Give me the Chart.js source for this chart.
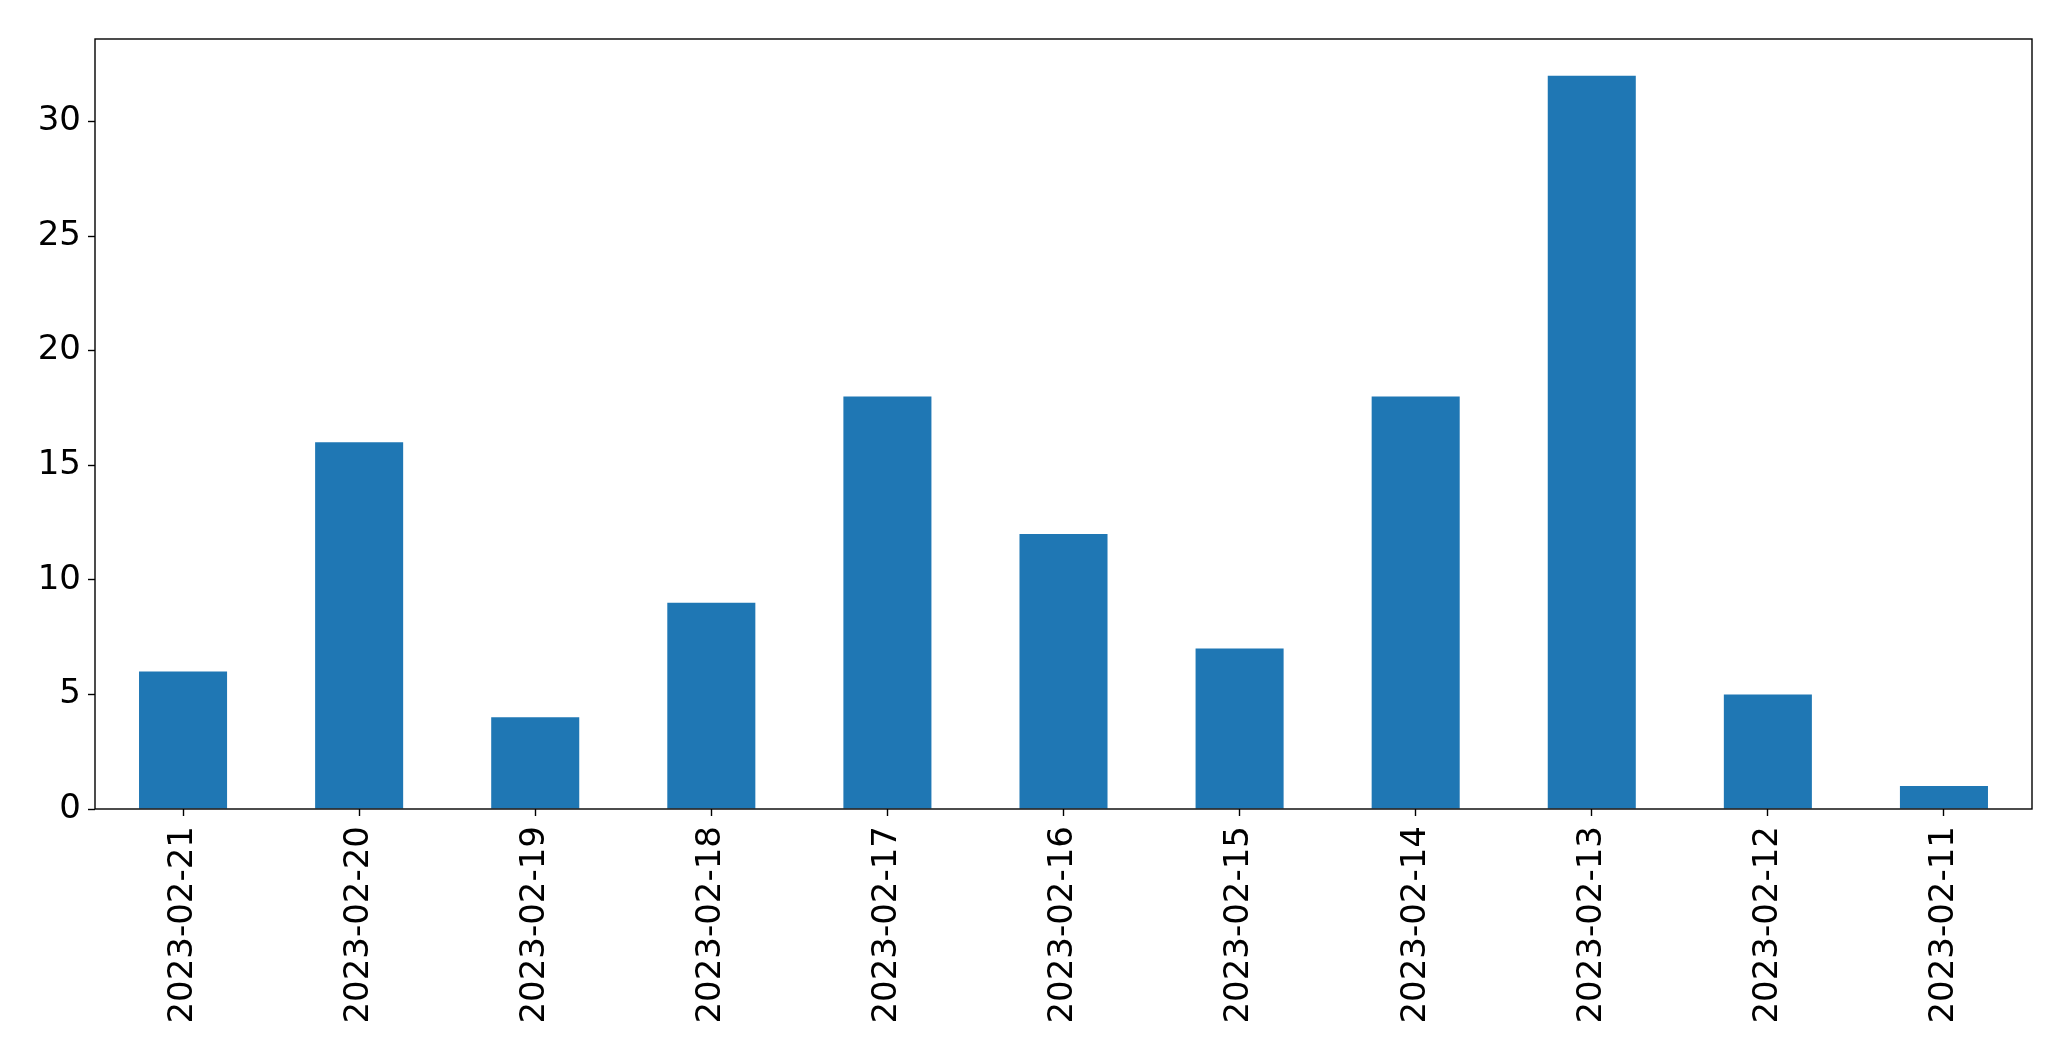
<!DOCTYPE html>
<html>
<head>
<meta charset="utf-8">
<script src="https://cdn.jsdelivr.net/npm/chart.js@4/dist/chart.umd.min.js"></script>
<style>
  html, body { margin: 0; padding: 0; background: #fff; }
  #wrap { width: 2071px; height: 1061px; }
</style>
</head>
<body>
<div id="wrap"><canvas id="chart"></canvas></div>
<script>
const dates = ['2023-02-21', '2023-02-20', '2023-02-19', '2023-02-18', '2023-02-17', '2023-02-16',
    '2023-02-15', '2023-02-14', '2023-02-13', '2023-02-12', '2023-02-11'];
const counts = [6, 16, 4, 9, 18, 12, 7, 18, 32, 5, 1];
const yTicks = [0, 5, 10, 15, 20, 25, 30];

// frame around the plot area, like the matplotlib axes box
const frame = {
    id: 'frame',
    afterDraw(chart) {
        const { ctx, chartArea: a } = chart;
        ctx.save();
        ctx.strokeStyle = '#000';
        ctx.lineWidth = 1.4;
        ctx.strokeRect(a.left, a.top, a.right - a.left, a.bottom - a.top);
        ctx.restore();
    }
};

const tickFont = { family: 'DejaVu Sans', size: 34 };

new Chart(document.getElementById('chart'), {
    type: 'bar',
    data: {
        labels: dates,
        datasets: [{
            data: counts,
            backgroundColor: '#1f77b4',
            borderWidth: 0,
            barPercentage: 0.5,
            categoryPercentage: 1.0
        }]
    },
    options: {
        responsive: true,
        maintainAspectRatio: false,
        animation: false,
        layout: { padding: { top: 39, right: 39, left: 0, bottom: 0 } },
        plugins: {
            legend: { display: false },
            tooltip: { enabled: false }
        },
        scales: {
            x: {
                grid: {
                    offset: false,
                    drawOnChartArea: false,
                    drawTicks: true,
                    tickLength: 7,
                    tickWidth: 1.4,
                    tickColor: '#000'
                },
                border: { display: false },
                ticks: {
                    color: '#000',
                    font: tickFont,
                    minRotation: 90,
                    maxRotation: 90,
                    autoSkip: false,
                    padding: 10
                },
                afterFit(scale) { scale.height = 252; }
            },
            y: {
                min: 0,
                max: 33.6,
                grid: {
                    drawOnChartArea: false,
                    drawTicks: true,
                    tickLength: 7,
                    tickWidth: 1.4,
                    tickColor: '#000'
                },
                border: { display: false },
                afterBuildTicks(scale) {
                    scale.ticks = yTicks.map(v => ({ value: v }));
                },
                ticks: {
                    color: '#000',
                    font: tickFont,
                    padding: 7
                },
                afterFit(scale) { scale.width = 95; }
            }
        }
    },
    plugins: [frame]
});
</script>
</body>
</html>
